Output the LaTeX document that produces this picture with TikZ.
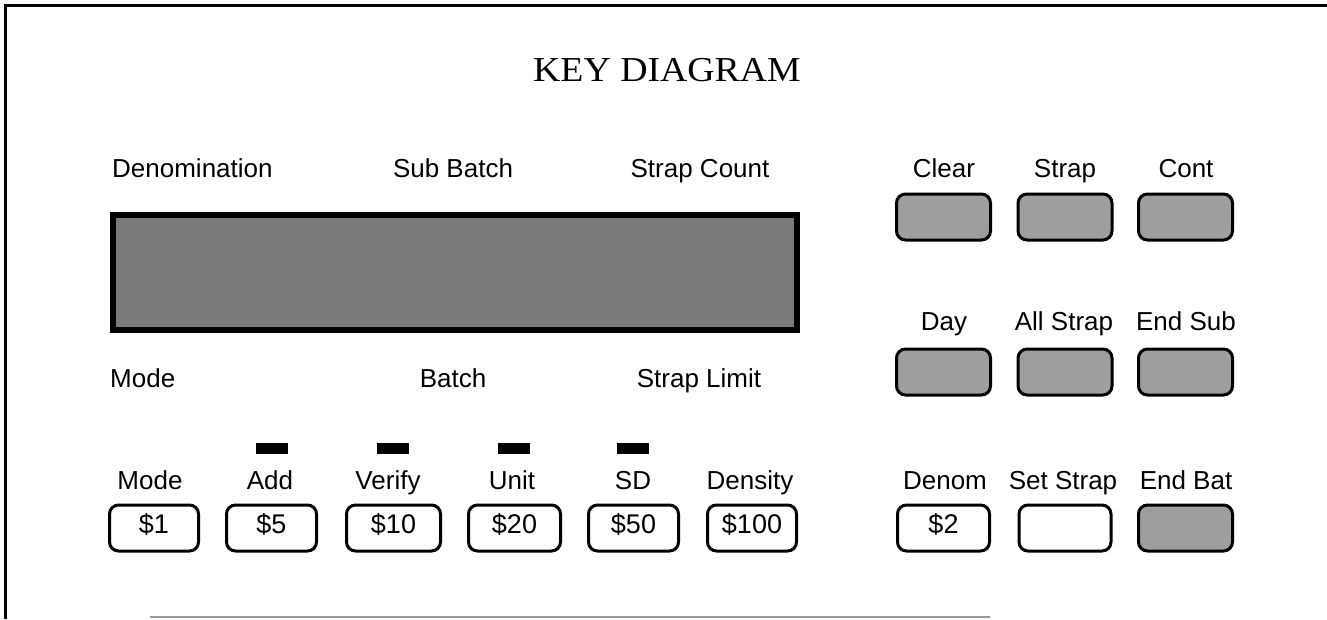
\documentclass[tikz,border=0pt]{standalone}
\usepackage{fontspec}
\setmainfont{Liberation Sans}
\newfontfamily\titlefont{Liberation Serif}
\begin{document}
\begin{tikzpicture}[x=1pt,y=-1pt,
  lbl/.style={font=\fontsize{26}{30}\selectfont, inner sep=0pt, anchor=base},
  keybase/.style={draw, line width=3pt, rounded corners=9pt, inner sep=0pt,
    minimum height=46pt, text height=18pt, text depth=8pt,
    font=\fontsize{27}{30}\selectfont},
  keyg/.style={keybase, fill=black!38, minimum width=94pt},
  keyw/.style={keybase, fill=white, minimum width=#1},
  keyw/.default=92pt,
  ledbox/.style={fill=black, minimum width=32pt, minimum height=11pt, inner sep=0pt},
  disp/.style={draw, line width=6pt, fill=black!52, inner sep=0pt,
    minimum width=684pt, minimum height=115pt}]
\useasboundingbox (0,0) rectangle (1327,619);
% frame
\draw[line width=3pt] (1327,5) -- (5,5) -- (5,619);
\draw[black!40, line width=1.5pt] (150,617) -- (990,617);
% title
\node[inner sep=0pt] (title) at (667,70) {\titlefont\fontsize{35}{40}\selectfont\scalebox{1.08}[1]{KEY DIAGRAM}};
% display labels
\node[lbl, anchor=base west] (ldenomination) at (112,177) {Denomination};
\node[lbl] (lsubbatch) at (453,177) {Sub Batch};
\node[lbl] (lstrapcount) at (700,177) {Strap Count};
\node[lbl, anchor=base west] (lmodedisp) at (110,387) {Mode};
\node[lbl] (lbatch) at (453,387) {Batch};
\node[lbl] (lstraplimit) at (699,387) {Strap Limit};
% display
\node[disp] (display) at (455,272.5) {};
% right keypad labels
\node[lbl] (lclear) at (944,177) {Clear};
\node[lbl] (lstrap) at (1065,177) {Strap};
\node[lbl] (lcont) at (1186,177) {Cont};
\node[lbl] (lday) at (944,330) {Day};
\node[lbl] (lallstrap) at (1064,330) {All Strap};
\node[lbl] (lendsub) at (1186,330) {End Sub};
\node[lbl] (ldenom) at (945,489) {Denom};
\node[lbl] (lsetstrap) at (1063,489) {Set Strap};
\node[lbl] (lendbat) at (1186,489) {End Bat};
% right keypad keys
\node[keyg] (kclear) at (943.5,217) {};
\node[keyg] (kstrap) at (1065,217) {};
\node[keyg] (kcont) at (1185.5,217) {};
\node[keyg] (kday) at (943.5,372) {};
\node[keyg] (kallstrap) at (1065,372) {};
\node[keyg] (kendsub) at (1185.5,372) {};
\node[keyw] (kdenom) at (943.5,528) {\$2};
\node[keyw] (ksetstrap) at (1065,528) {};
\node[keyg] (kendbat) at (1185.5,528) {};
% bottom-left labels
\node[lbl] (lmode) at (150,489) {Mode};
\node[lbl] (ladd) at (270,489) {Add};
\node[lbl] (lverify) at (388,489) {Verify};
\node[lbl] (lunit) at (512,489) {Unit};
\node[lbl] (lsd) at (633,489) {SD};
\node[lbl] (ldensity) at (750,489) {Density};
% LEDs
\node[ledbox] (ledadd) at (271.5,448.5) {};
\node[ledbox] (ledverify) at (393,448.5) {};
\node[ledbox] (ledunit) at (513.5,448.5) {};
\node[ledbox] (ledsd) at (633,448.5) {};
% bottom-left keys
\node[keyw=89pt] (k1) at (154,528) {\$1};
\node[keyw=90pt] (k5) at (271.5,528) {\$5};
\node[keyw=94pt] (k10) at (393.5,528) {\$10};
\node[keyw=92pt] (k20) at (514.5,528) {\$20};
\node[keyw=90pt] (k50) at (633.5,528) {\$50};
\node[keyw=89pt] (k100) at (752,528) {\$100};
\end{tikzpicture}
\end{document}
